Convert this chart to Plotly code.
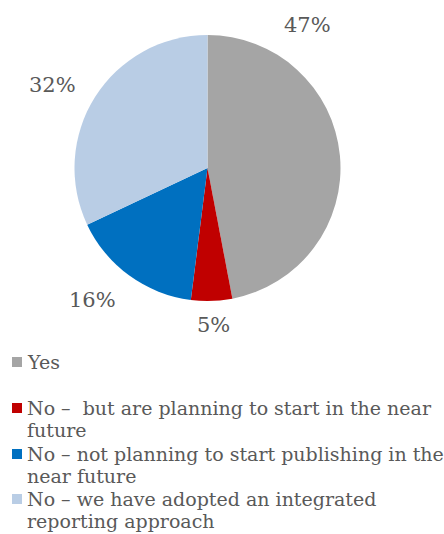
import plotly.graph_objects as go

# Survey responses and their shares (%)
categories = [
    "Yes",
    "No –  but are planning to start in the near future",
    "No – not planning to start publishing in the near future",
    "No – we have adopted an integrated reporting approach",
]
# Wrapped legend text, one list of lines per category
legend_lines = [
    ["Yes"],
    ["No –  but are planning to start in the near", "future"],
    ["No – not planning to start publishing in the", "near future"],
    ["No – we have adopted an integrated", "reporting approach"],
]
shares = [47, 5, 16, 32]
pct_labels = ["47%", "5%", "16%", "32%"]
colors = ["#A5A5A5", "#C00000", "#0070C0", "#B9CDE5"]

# Label anchor points in pixels (x, y from top-left)
label_px = [(307, 25), (213, 325), (92, 300), (52, 85)]

W, H = 444, 534
FONT = "DejaVu Serif"
TXT = "#595959"

CX, CY, R = 207.5, 168, 133

fig = go.Figure(
    go.Pie(
        labels=categories,
        values=shares,
        marker=dict(colors=colors, line=dict(width=0)),
        sort=False,
        direction="clockwise",
        rotation=0,
        textinfo="none",
        hoverinfo="label+percent",
        showlegend=False,
        domain=dict(x=[(CX - R) / W, (CX + R) / W], y=[1 - (CY + R) / H, 1 - (CY - R) / H]),
    )
)

for txt, (px, py) in zip(pct_labels, label_px):
    fig.add_annotation(
        x=px / W, y=1 - py / H, xref="paper", yref="paper",
        text=txt, showarrow=False,
        font=dict(family=FONT, size=21, color=TXT),
        xanchor="center", yanchor="middle",
    )

# Legend: one colored square and wrapped text per category
entry_top = [362, 408, 454, 499]
line_gap = 22
for lines, col, y0 in zip(legend_lines, colors, entry_top):
    fig.add_shape(
        type="rect", xref="paper", yref="paper",
        x0=12 / W, x1=22 / W, y0=1 - (y0 - 5) / H, y1=1 - (y0 + 5) / H,
        fillcolor=col, line=dict(width=0),
    )
    for i, ln in enumerate(lines):
        fig.add_annotation(
            x=26 / W, y=1 - (y0 + i * line_gap) / H, xref="paper", yref="paper",
            text=ln, showarrow=False,
            font=dict(family=FONT, size=19, color=TXT),
            xanchor="left", yanchor="middle", align="left",
            borderpad=0,
        )

fig.update_layout(
    width=W, height=H,
    margin=dict(l=0, r=0, t=0, b=0),
    paper_bgcolor="white",
    plot_bgcolor="white",
    showlegend=False,
)

fig.write_html("out.html")
